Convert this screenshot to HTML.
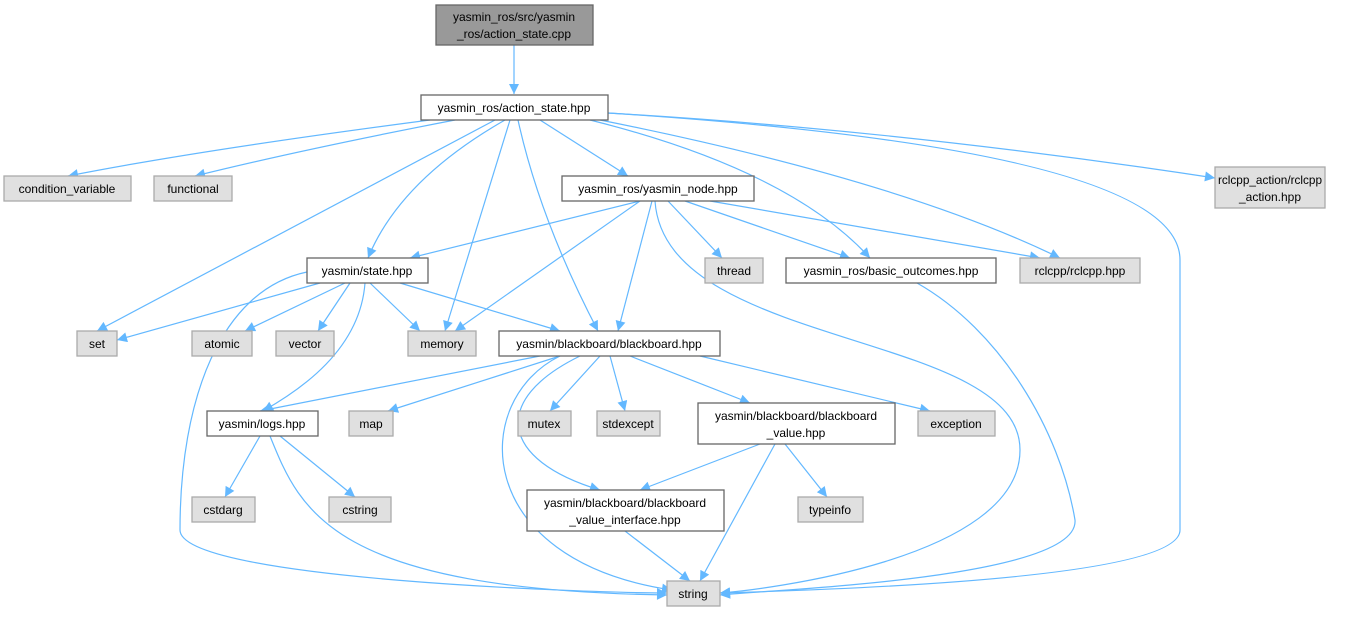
<!DOCTYPE html>
<html><head><meta charset="utf-8"><style>
body{margin:0;background:#fff;width:1358px;height:612px;overflow:hidden}
svg text{font-family:"Liberation Sans",Arial,sans-serif;font-size:12px;fill:#000}
.w{fill:#fff;stroke:#666;stroke-width:1.3}
.g{fill:#e0e0e0;stroke:#aaa;stroke-width:1.3}
.r{fill:#999;stroke:#666;stroke-width:1.3}
path.e{fill:none;stroke:#63b8ff;stroke-width:1.2}
</style></head><body>
<svg width="1358" height="612" xmlns="http://www.w3.org/2000/svg">
<defs><marker id="a" viewBox="0 0 10 10" refX="10" refY="5" markerWidth="11" markerHeight="10" markerUnits="userSpaceOnUse" orient="auto"><path d="M0,0 L10,5 L0,10 z" fill="#63b8ff"/></marker></defs>
<g marker-end="url(#a)">
<path class="e" d="M514,45 L514,94"/>
<path class="e" d="M430,120 Q200,150 68,176"/>
<path class="e" d="M455,120 Q300,150 195,176"/>
<path class="e" d="M495,120 L97,331"/>
<path class="e" d="M505,120 Q400,180 368,258"/>
<path class="e" d="M510,120 L445,331"/>
<path class="e" d="M518,120 Q540,220 598,331"/>
<path class="e" d="M540,120 L628,176"/>
<path class="e" d="M590,120 Q790,170 870,258"/>
<path class="e" d="M600,120 Q900,180 1060,258"/>
<path class="e" d="M608,113 Q1180,150 1180,260 L1180,530 Q1180,580 720,593"/>
<path class="e" d="M608,113 Q900,130 1215,178"/>
<path class="e" d="M640,201 L410,258"/>
<path class="e" d="M640,201 L455,331"/>
<path class="e" d="M652,201 L618,331"/>
<path class="e" d="M655,201 C665,350 1020,330 1020,450 C1020,560 760,590 720,593"/>
<path class="e" d="M668,201 L722,258"/>
<path class="e" d="M685,201 L850,258"/>
<path class="e" d="M710,201 L1040,258"/>
<path class="e" d="M917,283 C1000,330 1060,430 1075,520 C1080,580 760,590 720,595"/>
<path class="e" d="M307,272 C220,290 180,400 180,530 C180,580 600,593 667,593"/>
<path class="e" d="M320,283 L117,340"/>
<path class="e" d="M345,283 L245,331"/>
<path class="e" d="M350,283 L318,331"/>
<path class="e" d="M365,283 C360,350 300,390 263,411"/>
<path class="e" d="M370,283 L420,331"/>
<path class="e" d="M400,283 L560,331"/>
<path class="e" d="M540,356 L260,411"/>
<path class="e" d="M560,356 L388,411"/>
<path class="e" d="M600,356 L550,411"/>
<path class="e" d="M610,356 L625,411"/>
<path class="e" d="M630,356 L750,403"/>
<path class="e" d="M700,356 L930,411"/>
<path class="e" d="M580,356 C490,400 500,460 600,490"/>
<path class="e" d="M560,356 C470,400 470,560 672,590"/>
<path class="e" d="M260,436 L225,497"/>
<path class="e" d="M280,436 L355,497"/>
<path class="e" d="M270,436 C300,510 330,590 667,595"/>
<path class="e" d="M760,444 L640,490"/>
<path class="e" d="M785,444 L827,497"/>
<path class="e" d="M775,444 L700,581"/>
<path class="e" d="M625,531 L690,581"/>
</g>
<rect class="r" x="436" y="5" width="157" height="40"/>
<text x="514" y="21" text-anchor="middle">yasmin_ros/src/yasmin</text><text x="514" y="38" text-anchor="middle">_ros/action_state.cpp</text>
<rect class="w" x="421" y="95" width="187" height="25"/><text x="514" y="112" text-anchor="middle">yasmin_ros/action_state.hpp</text>
<rect class="g" x="4" y="176" width="127" height="25"/><text x="67" y="193" text-anchor="middle">condition_variable</text>
<rect class="g" x="154" y="176" width="78" height="25"/><text x="193" y="193" text-anchor="middle">functional</text>
<rect class="w" x="562" y="176" width="192" height="25"/><text x="658" y="193" text-anchor="middle">yasmin_ros/yasmin_node.hpp</text>
<rect class="g" x="1215" y="167" width="110" height="41"/><text x="1270" y="184" text-anchor="middle" textLength="104" lengthAdjust="spacingAndGlyphs">rclcpp_action/rclcpp</text><text x="1270" y="201" text-anchor="middle">_action.hpp</text>
<rect class="w" x="307" y="258" width="121" height="25"/><text x="367" y="275" text-anchor="middle">yasmin/state.hpp</text>
<rect class="g" x="705" y="258" width="58" height="25"/><text x="734" y="275" text-anchor="middle">thread</text>
<rect class="w" x="786" y="258" width="210" height="25"/><text x="891" y="275" text-anchor="middle">yasmin_ros/basic_outcomes.hpp</text>
<rect class="g" x="1020" y="258" width="120" height="25"/><text x="1080" y="275" text-anchor="middle">rclcpp/rclcpp.hpp</text>
<rect class="g" x="77" y="331" width="40" height="25"/><text x="97" y="348" text-anchor="middle">set</text>
<rect class="g" x="192" y="331" width="60" height="25"/><text x="222" y="348" text-anchor="middle">atomic</text>
<rect class="g" x="276" y="331" width="58" height="25"/><text x="305" y="348" text-anchor="middle">vector</text>
<rect class="g" x="408" y="331" width="68" height="25"/><text x="442" y="348" text-anchor="middle">memory</text>
<rect class="w" x="499" y="331" width="221" height="25"/><text x="609" y="348" text-anchor="middle">yasmin/blackboard/blackboard.hpp</text>
<rect class="w" x="207" y="411" width="111" height="25"/><text x="262" y="428" text-anchor="middle">yasmin/logs.hpp</text>
<rect class="g" x="349" y="411" width="44" height="25"/><text x="371" y="428" text-anchor="middle">map</text>
<rect class="g" x="518" y="411" width="53" height="25"/><text x="544" y="428" text-anchor="middle">mutex</text>
<rect class="g" x="597" y="411" width="63" height="25"/><text x="628" y="428" text-anchor="middle">stdexcept</text>
<rect class="w" x="698" y="403" width="197" height="41"/><text x="796" y="420" text-anchor="middle">yasmin/blackboard/blackboard</text><text x="796" y="437" text-anchor="middle">_value.hpp</text>
<rect class="g" x="918" y="411" width="77" height="25"/><text x="956" y="428" text-anchor="middle">exception</text>
<rect class="g" x="192" y="497" width="63" height="25"/><text x="223" y="514" text-anchor="middle">cstdarg</text>
<rect class="g" x="329" y="497" width="62" height="25"/><text x="360" y="514" text-anchor="middle">cstring</text>
<rect class="w" x="527" y="490" width="197" height="41"/><text x="625" y="507" text-anchor="middle">yasmin/blackboard/blackboard</text><text x="625" y="524" text-anchor="middle">_value_interface.hpp</text>
<rect class="g" x="798" y="497" width="65" height="25"/><text x="830" y="514" text-anchor="middle">typeinfo</text>
<rect class="g" x="667" y="581" width="53" height="25"/><text x="693" y="598" text-anchor="middle">string</text>
</svg>
</body></html>
